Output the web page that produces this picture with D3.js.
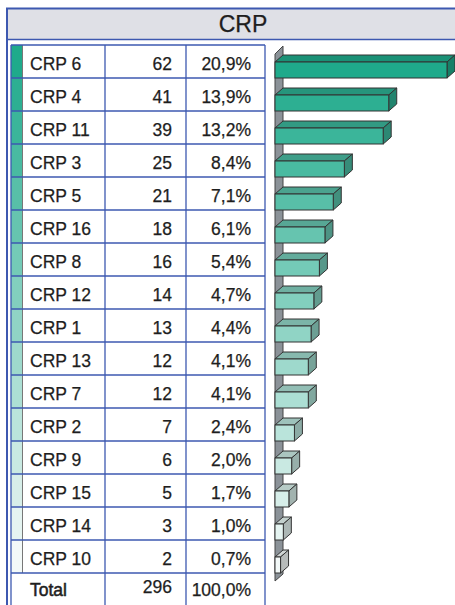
<!DOCTYPE html>
<html>
<head>
<meta charset="utf-8">
<title>CRP</title>
<script src="https://cdn.jsdelivr.net/npm/d3@7"></script>
<style>
    body { margin: 0; background: #fff; }
    svg text { font-family: 'Liberation Sans', Arial, sans-serif; }
</style>
</head>
<body>
<div id="chart"></div>
<script>
/*global d3: false*/

var labels = ['CRP 6', 'CRP 4', 'CRP 11', 'CRP 3', 'CRP 5', 'CRP 16', 'CRP 8', 'CRP 12',
              'CRP 1', 'CRP 13', 'CRP 7', 'CRP 2', 'CRP 9', 'CRP 15', 'CRP 14', 'CRP 10'];
var counts = [62, 41, 39, 25, 21, 18, 16, 14, 13, 12, 12, 7, 6, 5, 3, 2];
var percents = ['20,9%', '13,9%', '13,2%', '8,4%', '7,1%', '6,1%', '5,4%', '4,7%',
                '4,4%', '4,1%', '4,1%', '2,4%', '2,0%', '1,7%', '1,0%', '0,7%'];
var totalLabel = 'Total';
var totalCount = 296;
var totalPercent = '100,0%';
var title = 'CRP';

(function() {
    'use strict';
    var svg, width, height, rowH, top0, n, x, y, color, blue, depth, i, yTop, yBot, xr, c, cell;

    width = 455;
    height = 605;
    rowH = 33;
    top0 = 45;
    n = labels.length;
    blue = '#3d58b0';
    depth = 8;

    svg = d3.select('#chart').append('svg')
        .attr('width', width)
        .attr('height', height);

    // row positions (16 rows + total)
    y = d3.scaleLinear().domain([0, n + 1]).range([top0, top0 + rowH * (n + 1)]);
    x = d3.scaleLinear().domain([0, 62]).range([275, 447]);
    color = d3.scaleLinear().domain([0, n - 1])
        .range(['#1faa8b', '#f3f9f8'])
        .interpolate(d3.interpolateRgb);

    cell = function(tx, ty, txt, anchor) {
        return svg.append('text')
            .attr('x', tx).attr('y', ty)
            .attr('text-anchor', anchor)
            .attr('font-size', '17.5')
            .attr('fill', '#1e1e1e')
            .attr('stroke', '#1e1e1e')
            .attr('stroke-width', 0.25)
            .text(txt);
    };

    // Outer frame + title band
    svg.append('rect')
        .attr('x', 7).attr('y', 9)
        .attr('width', 480).attr('height', 30)
        .attr('fill', '#dfe0e6');
    svg.append('line')
        .attr('x1', 6).attr('y1', 8.5).attr('x2', width).attr('y2', 8.5)
        .attr('stroke', blue).attr('stroke-width', 2);
    svg.append('line')
        .attr('x1', 6).attr('y1', 39.5).attr('x2', width).attr('y2', 39.5)
        .attr('stroke', blue).attr('stroke-width', 1.5);
    svg.append('line')
        .attr('x1', 7).attr('y1', 8).attr('x2', 7).attr('y2', height)
        .attr('stroke', blue).attr('stroke-width', 2);
    svg.append('text')
        .attr('x', 243).attr('y', 32)
        .attr('text-anchor', 'middle')
        .attr('font-size', '23')
        .attr('fill', '#1e1e1e')
        .attr('stroke', '#1e1e1e')
        .attr('stroke-width', 0.25)
        .text(title);

    // Colour stripes
    for (i = 0; i < n; i++) {
        svg.append('rect')
            .attr('x', 11).attr('y', y(i))
            .attr('width', 11).attr('height', rowH)
            .attr('fill', color(i));
    }
    svg.append('line')
        .attr('x1', 22.5).attr('y1', y(0)).attr('x2', 22.5).attr('y2', y(n))
        .attr('stroke', '#777').attr('stroke-width', 1);

    // Grid lines
    for (i = 0; i <= n + 1; i++) {
        svg.append('line')
            .attr('x1', 11).attr('y1', y(i))
            .attr('x2', 265).attr('y2', y(i))
            .attr('stroke', blue).attr('stroke-width', 1.3);
    }
    [11, 105, 186, 265].forEach(function(cx) {
        svg.append('line')
            .attr('x1', cx).attr('y1', y(0))
            .attr('x2', cx).attr('y2', height)
            .attr('stroke', blue).attr('stroke-width', 1.3);
    });

    // Table text
    for (i = 0; i < n; i++) {
        cell(30, y(i) + 24.5, labels[i], 'start');
        cell(172, y(i) + 24.5, counts[i], 'end');
        cell(251, y(i) + 24.5, percents[i], 'end');
    }
    cell(30, y(n) + 22.5, totalLabel, 'start').attr('stroke-width', 0.5);
    cell(172, y(n) + 19.5, totalCount, 'end');
    cell(251, y(n) + 22.5, totalPercent, 'end');

    // Back wall
    svg.append('polygon')
        .attr('points', [[x(0), 54], [x(0) + depth, 46], [x(0) + depth, y(n) + 1],
                         [x(0), y(n) + 8]].join(' '))
        .attr('fill', '#8b9298')
        .attr('stroke', '#444').attr('stroke-width', 1);

    // 3D bars
    for (i = 0; i < n; i++) {
        yTop = y(i) + 17;
        yBot = y(i) + 33;
        xr = x(counts[i]);
        c = d3.color(color(i));

        svg.append('polygon')
            .attr('points', [[x(0), yTop], [x(0) + depth, yTop - depth + 1],
                             [xr + depth, yTop - depth + 1], [xr, yTop]].join(' '))
            .attr('fill', c.darker(0.45))
            .attr('stroke', '#333').attr('stroke-width', 1);
        svg.append('polygon')
            .attr('points', [[xr, yTop], [xr + depth, yTop - depth + 1],
                             [xr + depth, yBot - depth + 1], [xr, yBot]].join(' '))
            .attr('fill', c.darker(0.8))
            .attr('stroke', '#333').attr('stroke-width', 1);
        svg.append('rect')
            .attr('x', x(0)).attr('y', yTop)
            .attr('width', xr - x(0)).attr('height', yBot - yTop)
            .attr('fill', c)
            .attr('stroke', '#333').attr('stroke-width', 1);
    }
}());
</script>
</body>
</html>
